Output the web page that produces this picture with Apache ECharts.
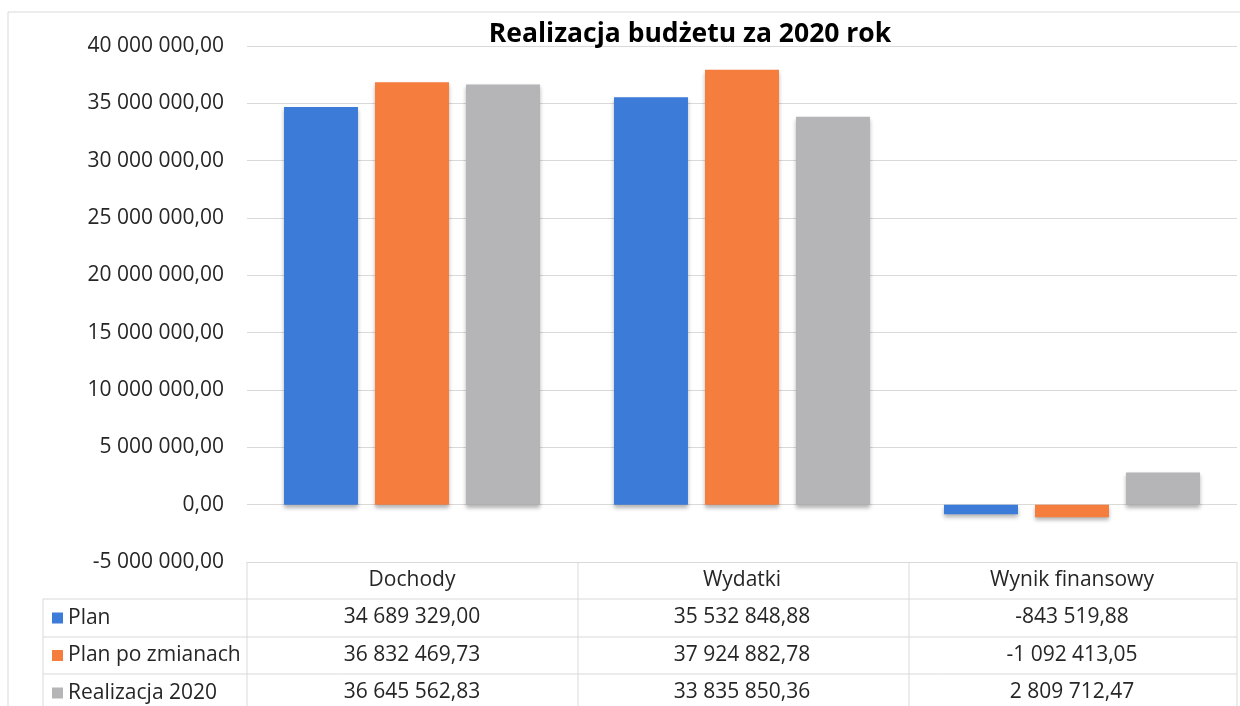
<!DOCTYPE html>
<html>
<head>
<meta charset="utf-8">
<title>Realizacja budżetu za 2020 rok</title>
<script src="https://cdn.jsdelivr.net/npm/echarts@6/dist/echarts.min.js"></script>
<style>
  html, body { margin: 0; padding: 0; background: #fff; }
  #chart { width: 1240px; height: 706px; }
</style>
</head>
<body>
<div id="chart"></div>
<script>
// dane z wykresu
const categories = ["Dochody", "Wydatki", "Wynik finansowy"];
const seriesNames = ["Plan", "Plan po zmianach", "Realizacja 2020"];
const plan = [34689329.00, 35532848.88, -843519.88];
const planPoZmianach = [36832469.73, 37924882.78, -1092413.05];
const realizacja = [36645562.83, 33835850.36, 2809712.47];
const yTicks = { min: -5000000, max: 40000000, step: 5000000 };

const colors = ["#3d7bd8", "#f57d3d", "#b5b4b6"];
const FONT = "Open Sans";
const TEXT = "#262626";
const LINE = "#d9d9d9";
const FS = 21;

// format: 34 689 329,00
function fmt(v) {
  let neg = v < 0;
  let s = Math.abs(v).toFixed(2).split(".");
  let int = s[0].replace(/\B(?=(\d{3})+(?!\d))/g, " ");
  return (neg ? "-" : "") + int + "," + s[1];
}

const rows = [plan, planPoZmianach, realizacja];

let myChart = echarts.init(document.getElementById("chart"));

// osie x: naglowek + trzy wiersze tabeli pod wykresem
let xAxes = [{
  type: "category",
  data: categories,
  position: "bottom",
  axisLine: { show: false, onZero: false },
  axisTick: { show: false },
  axisLabel: { margin: 7, fontFamily: FONT, fontSize: FS, color: TEXT, lineHeight: 22, interval: 0 }
}];
const rowOffsets = [37, 75, 112];
rows.forEach((vals, i) => {
  xAxes.push({
    type: "category",
    data: categories,
    position: "bottom",
    offset: rowOffsets[i],
    axisLine: { show: false, onZero: false },
    axisTick: { show: false },
    axisLabel: {
      margin: 7, fontFamily: FONT, fontSize: FS, color: TEXT, lineHeight: 22, interval: 0,
      formatter: (v, idx) => fmt(vals[idx])
    }
  });
});

// linie tabeli
function line(x1, y1, x2, y2) {
  return { type: "line", shape: { x1, y1, x2, y2 }, style: { stroke: LINE, lineWidth: 1 }, silent: true };
}
let tableLines = [
  line(8, 12, 1240, 12),
  line(8, 12, 8, 706),
  line(43, 599, 1237, 599),
  line(43, 637, 1237, 637),
  line(43, 674, 1237, 674),
  line(43, 599, 43, 706),
  line(247, 562, 247, 706),
  line(578, 562, 578, 706),
  line(909, 562, 909, 706),
  line(1237, 562, 1237, 706)
];

let option = {
  animation: false,
  color: colors,
  title: {
    text: "Realizacja budżetu za 2020 rok",
    left: 690,
    top: 21,
    padding: 0,
    textAlign: "center",
    textStyle: { fontFamily: FONT, fontSize: 26.5, fontWeight: "bold", color: "#000" }
  },
  legend: {
    orient: "vertical",
    left: 52,
    top: 607,
    padding: 0,
    itemGap: 15.5,
    itemWidth: 11,
    itemHeight: 11,
    icon: "rect",
    selectedMode: false,
    data: seriesNames,
    textStyle: { fontFamily: FONT, fontSize: FS, color: TEXT, lineHeight: 22, padding: [0, 0, 0, 0] }
  },
  grid: { left: 247, right: 3, top: 46, bottom: 144, containLabel: false },
  xAxis: xAxes,
  yAxis: {
    type: "value",
    min: yTicks.min,
    max: yTicks.max,
    interval: yTicks.step,
    axisLine: { show: false },
    axisTick: { show: false },
    splitLine: { lineStyle: { color: LINE } },
    axisLabel: { margin: 23, fontFamily: FONT, fontSize: FS, color: TEXT, formatter: v => fmt(v) }
  },
  graphic: tableLines,
  series: rows.map((vals, i) => ({
    name: seriesNames[i],
    type: "bar",
    data: vals,
    barWidth: 74,
    barGap: "23%",
    itemStyle: {
      shadowBlur: 4,
      shadowOffsetY: 3,
      shadowColor: "rgba(0,0,0,0.3)"
    }
  }))
};

myChart.setOption(option);
</script>
</body>
</html>
